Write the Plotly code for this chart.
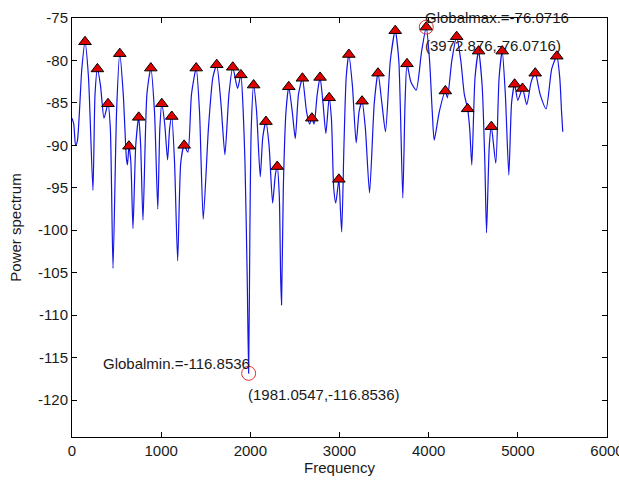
import plotly.graph_objects as go

# Local maxima picked out of the spectrum (Hz, dB)
peak_freq = [146, 285, 404, 536, 639, 748, 884, 1007, 1119, 1258,
             1393, 1623, 1803, 1894, 2037, 2175, 2302, 2431, 2584, 2690,
             2782, 2884, 2993, 3105, 3253, 3432, 3625, 3757, 3972.876, 4187,
             4314, 4437, 4560, 4703, 4825, 4964, 5052, 5195, 5437]
peak_db = [-77.8, -81.0, -85.1, -79.2, -90.1, -86.7, -80.9, -85.1, -86.6, -90.0,
           -80.9, -80.5, -80.8, -81.7, -82.9, -87.2, -92.5, -83.1, -82.1, -86.8,
           -82.0, -84.4, -94.0, -79.3, -84.8, -81.5, -76.5, -80.4, -76.0716, -83.6,
           -77.2, -85.7, -78.9, -87.8, -78.9, -82.8, -83.3, -81.5, -79.5]

# Remaining spectrum samples between the maxima (Hz, dB)
other_freq = [0, 20, 40, 60, 110, 185, 235, 258, 320, 359,
              430, 460, 500, 575, 610, 622, 660, 684, 715, 770,
              796, 840, 925, 962, 985, 1040, 1072, 1095, 1150, 1185,
              1220, 1300, 1340, 1430, 1472, 1530, 1580, 1670, 1715, 1760,
              1857, 1920, 1940, 1965, 1981.0547, 1995, 2010, 2070, 2111, 2140,
              2210, 2250, 2280, 2325, 2340, 2350, 2370, 2400, 2470, 2504,
              2540, 2630, 2665, 2715, 2750, 2815, 2847, 2910, 2935, 2958,
              3010, 3025, 3050, 3075, 3145, 3187, 3220, 3290, 3337, 3390,
              3475, 3516, 3570, 3665, 3710, 3735, 3800, 3860, 3920, 4010,
              4040, 4062, 4120, 4210, 4260, 4360, 4400, 4460, 4484, 4520,
              4600, 4630, 4649, 4680, 4753, 4790, 4860, 4899, 4930, 5000,
              5100, 5150, 5250, 5317, 5380, 5470, 5490, 5504]
other_db = [-86.8, -87.5, -90.0, -89.5, -81.0, -82.0, -95.3, -84.0, -83.0, -86.8,
            -88.0, -104.5, -86.0, -84.0, -91.5, -92.3, -92.0, -99.8, -90.0, -90.0,
            -98.8, -84.0, -86.0, -97.5, -88.0, -87.5, -91.7, -88.0, -92.0, -103.6,
            -92.0, -90.8, -84.0, -86.0, -98.7, -88.0, -82.0, -85.0, -91.1, -84.0,
            -83.3, -86.0, -92.0, -105.6, -116.8536, -100.0, -88.0, -86.0, -93.7, -89.0,
            -90.0, -96.8, -93.5, -96.0, -105.5, -108.8, -95.0, -86.0, -86.0, -89.2,
            -84.0, -86.0, -87.5, -87.5, -84.0, -85.0, -88.6, -87.0, -95.0, -96.8,
            -97.5, -100.2, -90.0, -82.0, -83.0, -89.7, -86.0, -88.0, -95.6, -85.0,
            -85.0, -88.4, -80.0, -80.0, -96.2, -85.0, -82.5, -83.5, -79.0, -80.0,
            -86.0, -89.4, -86.0, -84.4, -80.0, -80.0, -84.0, -88.0, -92.3, -82.0,
            -83.0, -92.0, -100.3, -90.0, -92.1, -82.0, -84.0, -93.5, -85.0, -84.7,
            -85.2, -82.5, -84.0, -85.7, -81.0, -82.0, -86.0, -88.4]

x_ticks = [0, 1000, 2000, 3000, 4000, 5000, 6000]
y_ticks = [-120, -115, -110, -105, -100, -95, -90, -85, -80, -75]

# Full spectrum = maxima + other samples, ordered by frequency
pairs = sorted(zip(peak_freq + other_freq, peak_db + other_db))
freq = [p[0] for p in pairs]
power = [p[1] for p in pairs]

# Global extremes
i_max = max(range(len(power)), key=lambda i: power[i])
i_min = min(range(len(power)), key=lambda i: power[i])
gmax_f, gmax_p = freq[i_max], power[i_max]
gmin_f, gmin_p = freq[i_min], power[i_min]

y_lo, y_hi = gmin_p - 7.5, -75
x_lo, x_hi = 0, 6000


def to_paper_y(v):
    return (v - y_lo) / (y_hi - y_lo)


def to_paper_x(v):
    return (v - x_lo) / (x_hi - x_lo)


FONT = "Liberation Sans, Arial, sans-serif"
TXT = "#1a1a1a"

fig = go.Figure()
fig.add_trace(go.Scatter(
    x=freq, y=power, mode="lines",
    line=dict(color="#1414e6", width=1.2, shape="spline", smoothing=0.6),
    hoverinfo="skip"))
fig.add_trace(go.Scatter(
    x=peak_freq, y=peak_db, mode="markers",
    marker=dict(symbol="triangle-up", size=11, color="#e00000",
                line=dict(color="black", width=1))))
fig.add_trace(go.Scatter(
    x=[gmax_f, gmin_f], y=[gmax_p, gmin_p], mode="markers",
    marker=dict(symbol="circle-open", size=14, color="#e03030",
                line=dict(width=1))))

ann_font = dict(family=FONT, size=15, color=TXT)
labels = [
    (gmax_f, gmax_p + 1.1, f"Globalmax.={gmax_p:.4f}", "left", -3),
    (gmax_f, gmax_p - 2.2, f"({gmax_f:.3f},{gmax_p:.4f})", "left", -3),
    (gmin_f, gmin_p + 1.2, f"Globalmin.={gmin_p:.4f}", "right", 3),
    (gmin_f, gmin_p - 2.5, f"({gmin_f:.4f},{gmin_p:.4f})", "left", -3),
]
for lx, ly, txt, anchor, shift in labels:
    fig.add_annotation(x=to_paper_x(lx), y=to_paper_y(ly), xref="paper", yref="paper",
                       text=txt, showarrow=False, xanchor=anchor, yanchor="middle",
                       font=ann_font, xshift=shift)

axis_common = dict(showline=True, linecolor="black", linewidth=1, mirror="ticks",
                   ticks="inside", ticklen=5, tickcolor="black", showgrid=False,
                   zeroline=False, ticklabeloverflow="allow",
                   tickfont=dict(family=FONT, size=15, color=TXT))

fig.update_xaxes(range=[x_lo, x_hi], tickvals=x_ticks,
                 ticktext=[str(v) for v in x_ticks],
                 title=dict(text="Frequency", font=dict(family=FONT, size=15, color=TXT),
                            standoff=2),
                 **axis_common)
fig.update_yaxes(range=[y_lo, y_hi], tickvals=y_ticks,
                 ticktext=[str(v) for v in y_ticks],
                 title=dict(text="Power spectrum", font=dict(family=FONT, size=15, color=TXT),
                            standoff=12),
                 **axis_common)

fig.update_layout(
    width=619, height=485,
    margin=dict(l=72, r=12, t=18, b=48, autoexpand=False),
    paper_bgcolor="white", plot_bgcolor="white",
    showlegend=False,
)

fig.write_html("out.html")
